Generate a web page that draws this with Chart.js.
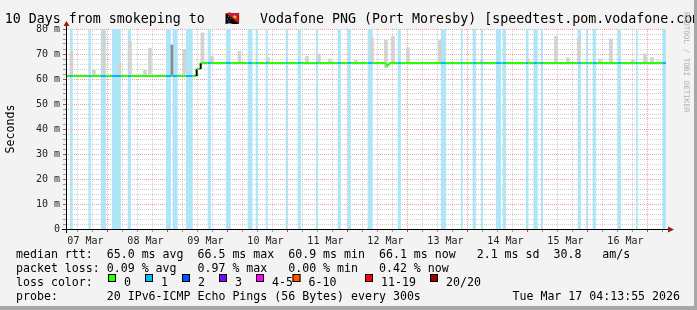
<!DOCTYPE html>
<html lang="en">
  <head>
    <meta charset="UTF-8" />
    <title>smokeping</title>
    <script src="https://cdn.jsdelivr.net/npm/chart.js"></script>
    <style>
      body { margin: 0; background: #f3f3f3; }
    </style>
  </head>
  <body>
    <div style="width: 697px; height: 310px">
      <canvas id="myChart" width="697" height="310"></canvas>
    </div>
    <script>
      // time axis in hours since 07 Mar 00:00
      const startHour = 4.23;
      const endHour = 244.23;
      const dayLabels = ["07 Mar", "08 Mar", "09 Mar", "10 Mar", "11 Mar", "12 Mar", "13 Mar", "14 Mar", "15 Mar", "16 Mar"];

      // median rtt (ms)
      const medT = [4.23, 56.5, 56.5, 58.1, 58.1, 131.8, 132.8, 133.8, 244.23];
      const medV = [61.2, 61.2, 64.0, 64.0, 66.4, 66.4, 65.3, 66.4, 66.4];

      // periods with 1/20 loss
      const bandStart = [5.8, 13.2, 18.2, 22.6, 28.9, 44.2, 46.9, 52.2, 60.9, 68.2, 76.9, 80.1, 84.1, 92.1, 96.9, 104.2, 112.9, 116.9, 124.9, 136.9, 154.2, 162.2, 166.9, 170.2, 176.2, 178.9, 188.2, 191.2, 194.2, 208.9, 212.2, 214.9, 224.9, 232.2, 242.9];
      const bandEnd = [6.9, 14.2, 20.2, 26.2, 30.2, 46.2, 48.9, 54.9, 62.2, 70.1, 78.8, 80.9, 84.9, 92.9, 98.2, 104.9, 114.2, 118.2, 126.9, 138.2, 156.2, 162.9, 168.2, 170.9, 178.2, 180.2, 189.2, 192.9, 195.0, 210.2, 212.9, 216.2, 226.2, 232.9, 244.2];

      // smoke (ping spread)
      const smokeT = [6.4, 15.4, 19.2, 25.6, 29.8, 35.8, 37.8, 51.6, 58.8, 62.6, 73.6, 85.0, 100.6, 105.4, 109.8, 120.2, 126.6, 132.2, 135.0, 141.0, 153.8, 170.6, 189.0, 200.2, 205.0, 209.4, 217.8, 222.2, 231.0, 235.8, 238.6];
      const smokeLo = [61.5, 61.5, 62, 61.5, 62, 61.5, 62, 62, 66.5, 66.5, 66.5, 66.5, 66.5, 66.5, 66.5, 66.5, 66.5, 64.5, 66.5, 66.5, 66.5, 66.5, 66.5, 66.5, 66.5, 66.5, 66.5, 66.5, 66.5, 66.5, 66.5];
      const smokeHi = [71, 63.5, 79.5, 66.5, 75, 63.5, 72.3, 71.8, 78.5, 69, 71, 68.5, 69, 70, 68, 67.5, 76.5, 75.5, 77, 72.5, 75.5, 67.5, 68, 77, 68.5, 76.5, 68, 76, 67.5, 70, 68.5];
      const darkSmokeT = [46.6];
      const darkSmokeLo = [61.5];
      const darkSmokeHi = [73.6];

      const lossLabels = ["0", "1", "2", "3", "4-5", "6-10", "11-19", "20/20"];
      const lossColors = ["#26ff00", "#00b8ff", "#0059ff", "#7e00ff", "#ff00ff", "#ff5500", "#ff0000", "#a10000"];

      const MONO = '"DejaVu Sans Mono", monospace';
      const majorGrid = "rgba(215,90,90,0.55)";
      const minorGrid = "rgba(150,150,150,0.45)";

      function inBand(t) {
        for (let i = 0; i < bandStart.length; i++) {
          if (t >= bandStart[i] && t <= bandEnd[i]) return true;
        }
        return false;
      }

      function medAt(t) {
        let v = medV[0];
        for (let i = 0; i < medT.length; i++) {
          if (medT[i] <= t) v = medV[i];
        }
        return v;
      }

      // median points, split at the loss band edges so segments can be coloured
      function medianPoints() {
        const pts = medT.map((t, i) => ({ x: t, y: medV[i] }));
        bandStart.concat(bandEnd).forEach((t) => pts.push({ x: t, y: medAt(t) }));
        return pts.sort((a, b) => a.x - b.x);
      }

      function bandPoints() {
        const pts = [];
        for (let i = 0; i < bandStart.length; i++) {
          pts.push({ x: bandStart[i], y: 80 });
          pts.push({ x: bandEnd[i], y: 0 });
        }
        return pts;
      }

      const decor = {
        id: "decor",
        beforeDraw(chart) {
          const ctx = chart.ctx;
          const a = chart.chartArea;
          ctx.save();
          ctx.fillStyle = "#f3f3f3";
          ctx.fillRect(0, 0, chart.width, chart.height);
          ctx.fillStyle = "#ffffff";
          ctx.fillRect(a.left, a.top, a.right - a.left, a.bottom - a.top);
          ctx.restore();
        },
        afterDraw(chart) {
          const ctx = chart.ctx;
          const a = chart.chartArea;
          ctx.save();

          // axes + arrows
          ctx.strokeStyle = "#000";
          ctx.lineWidth = 1;
          ctx.beginPath();
          ctx.moveTo(a.left - 4, a.bottom + 0.5);
          ctx.lineTo(a.right + 3, a.bottom + 0.5);
          ctx.moveTo(a.left + 0.5, a.bottom + 4);
          ctx.lineTo(a.left + 0.5, a.top - 3);
          ctx.stroke();
          ctx.fillStyle = "#a01818";
          ctx.beginPath();
          ctx.moveTo(a.left - 2.5, a.top - 3);
          ctx.lineTo(a.left + 3.5, a.top - 3);
          ctx.lineTo(a.left + 0.5, a.top - 8);
          ctx.closePath();
          ctx.fill();
          ctx.beginPath();
          ctx.moveTo(a.right + 2, a.bottom - 2.5);
          ctx.lineTo(a.right + 2, a.bottom + 3.5);
          ctx.lineTo(a.right + 8, a.bottom + 0.5);
          ctx.closePath();
          ctx.fill();

          // title
          ctx.fillStyle = "#000";
          ctx.textBaseline = "alphabetic";
          ctx.textAlign = "left";
          ctx.font = "13.3px " + MONO;
          ctx.fillText("10 Days from smokeping to ", 4.7, 23);
          ctx.fillText("\u{1F1F5}\u{1F1EC}", 224, 23);
          ctx.fillText(" Vodafone PNG (Port Moresby) [speedtest.pom.vodafone.com]", 252, 23);

          // y title
          ctx.font = "11.6px " + MONO;
          ctx.save();
          ctx.translate(11, 129);
          ctx.rotate(-Math.PI / 2);
          ctx.textAlign = "center";
          ctx.textBaseline = "middle";
          ctx.fillText("Seconds", 0, 0);
          ctx.restore();

          // legend
          ctx.fillText("median rtt:  65.0 ms avg  66.5 ms max  60.9 ms min  66.1 ms now   2.1 ms sd  30.8   am/s", 16, 257.5);
          ctx.fillText("packet loss: 0.09 % avg   0.97 % max   0.00 % min   0.42 % now", 16, 271.5);
          ctx.fillText("loss color:", 16, 285.5);
          const boxX = [108, 145, 182, 219, 256, 292.5, 365, 430];
          lossLabels.forEach((lab, i) => {
            ctx.fillStyle = lossColors[i];
            ctx.fillRect(boxX[i], 274, 8, 8);
            ctx.strokeStyle = "#000";
            ctx.strokeRect(boxX[i] + 0.5, 274.5, 7, 7);
            ctx.fillStyle = "#000";
            ctx.fillText(lab, boxX[i] + 16, 285.5);
          });
          ctx.fillText("probe:       20 IPv6-ICMP Echo Pings (56 Bytes) every 300s", 16, 299.5);
          ctx.textAlign = "right";
          ctx.fillText("Tue Mar 17 04:13:55 2026", 680, 299.5);

          // watermark
          ctx.save();
          ctx.translate(686, 12);
          ctx.rotate(Math.PI / 2);
          ctx.textAlign = "left";
          ctx.textBaseline = "middle";
          ctx.font = "7.6px " + MONO;
          ctx.fillStyle = "#b0b0b0";
          ctx.fillText("RRDTOOL / TOBI OETIKER", 0, 0);
          ctx.restore();

          // frame
          ctx.fillStyle = "#a8a8a8";
          ctx.fillRect(chart.width - 3, 0, 3, chart.height);
          ctx.fillRect(0, chart.height - 4, chart.width, 4);
          ctx.restore();
        },
      };

      function drawChart() {
        const ctx = document.getElementById("myChart");
        new Chart(ctx, {
          type: "line",
          data: {
            datasets: [
              {
                label: "median",
                data: medianPoints(),
                borderWidth: 2,
                pointRadius: 0,
                order: 1,
                segment: {
                  borderColor: (c) => {
                    const x0 = c.p0.parsed.x;
                    const x1 = c.p1.parsed.x;
                    if (x0 === x1) return "#000";
                    return inBand((x0 + x1) / 2) ? lossColors[1] : lossColors[0];
                  },
                },
              },
              {
                type: "bar",
                label: "smoke dark",
                data: darkSmokeT.map((t, i) => ({ x: t, y: [darkSmokeLo[i], darkSmokeHi[i]] })),
                backgroundColor: "#8a8a8a",
                barThickness: 2,
                grouped: false,
                order: 2,
              },
              {
                type: "bar",
                label: "smoke",
                data: smokeT.map((t, i) => ({ x: t, y: [smokeLo[i], smokeHi[i]] })),
                backgroundColor: "#d2d2d2",
                barThickness: 3,
                grouped: false,
                order: 3,
              },
              {
                label: "loss",
                data: bandPoints(),
                stepped: true,
                borderWidth: 0,
                pointRadius: 0,
                backgroundColor: "#aee6f8",
                fill: "origin",
                order: 4,
              },
            ],
          },
          options: {
            responsive: false,
            animation: false,
            devicePixelRatio: 1,
            layout: { padding: { left: 0, top: 29, right: 31, bottom: 0 } },
            plugins: { legend: { display: false }, tooltip: { enabled: false } },
            scales: {
              x: {
                type: "linear",
                min: startHour,
                max: endHour,
                offset: false,
                afterFit: (s) => { s.height = 81; },
                afterBuildTicks: (s) => {
                  s.ticks = [];
                  for (let t = 6; t <= 240; t += 6) s.ticks.push({ value: t });
                },
                border: { display: false, dash: [1, 1] },
                grid: {
                  color: (c) => (c.tick && c.tick.value % 24 === 0 ? majorGrid : minorGrid),
                  tickColor: (c) => (c.tick && c.tick.value % 24 === 0 ? "#d04040" : "#999"),
                  tickLength: 3,
                },
                ticks: {
                  autoSkip: false,
                  maxRotation: 0,
                  padding: 3,
                  color: "#222",
                  font: { family: MONO, size: 10 },
                  callback: (v) => (v % 24 === 12 ? dayLabels[(v - 12) / 24] : ""),
                },
              },
              y: {
                min: 0,
                max: 80,
                afterFit: (s) => { s.width = 66; },
                border: { display: false, dash: [1, 1] },
                grid: {
                  color: (c) => (c.tick && c.tick.value % 10 === 0 ? majorGrid : minorGrid),
                  tickColor: (c) => (c.tick && c.tick.value % 10 === 0 ? "#d04040" : "#999"),
                  tickLength: 3,
                },
                ticks: {
                  stepSize: 2,
                  autoSkip: false,
                  padding: 3,
                  color: "#222",
                  font: { family: MONO, size: 10 },
                  callback: (v) => (v % 10 === 0 ? (v === 0 ? "0" : v + " m") : ""),
                },
              },
            },
          },
          plugins: [decor],
        });
      }

      drawChart();
    </script>
  </body>
</html>
